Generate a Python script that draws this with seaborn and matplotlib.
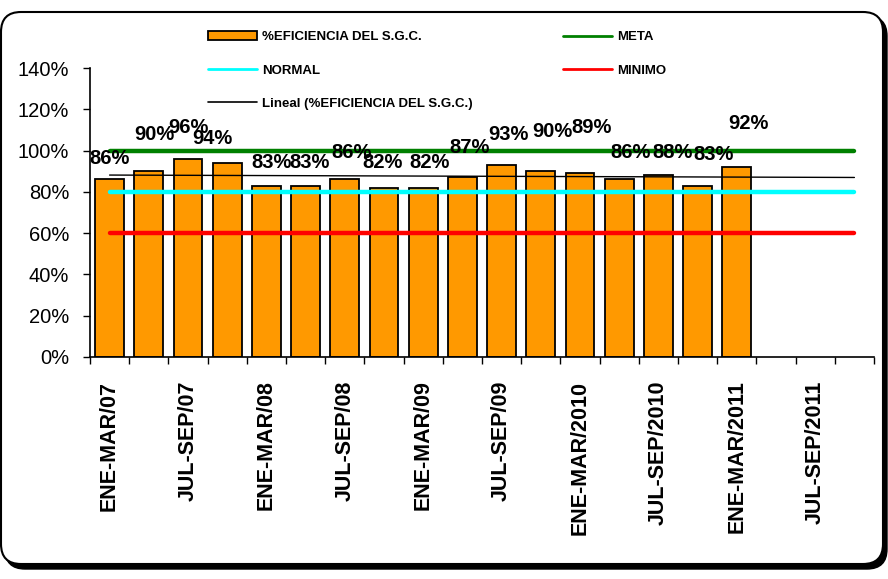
import numpy as np
import pandas as pd
import matplotlib
matplotlib.use("Agg")
import matplotlib.pyplot as plt
import seaborn as sns
from matplotlib.patches import FancyBboxPatch, Patch
from matplotlib.lines import Line2D
from matplotlib.ticker import PercentFormatter, FixedLocator

# data
periods = [
    "ENE-MAR/07", "ABR-JUN/07", "JUL-SEP/07", "OCT-DIC/07",
    "ENE-MAR/08", "ABR-JUN/08", "JUL-SEP/08", "OCT-DIC/08",
    "ENE-MAR/09", "ABR-JUN/09", "JUL-SEP/09", "OCT-DIC/09",
    "ENE-MAR/2010", "ABR-JUN/2010", "JUL-SEP/2010", "OCT-DIC/2010",
    "ENE-MAR/2011", "ABR-JUN/2011", "JUL-SEP/2011", "OCT-DIC/2011",
]
eficiencia = [86, 90, 96, 94, 83, 83, 86, 82, 82, 87, 93, 90, 89, 86, 88, 83, 92]
meta = 100
normal = 80
minimo = 60

# where excel left the data labels (offset from bar centre, label height in %)
label_dx = [0, 0.15, 0, -0.37, 0.13, 0.1, 0.17, -0.04, 0.16, 0.18, 0.18, 0.3, 0.3, 0.3, 0.36, 0.4, 0.3]
label_y = [96.3, 108, 111, 106, 94, 94, 99, 94, 94, 101.6, 108, 109, 111, 99, 99, 98, 113]

sns.set_style("white")
plt.rcParams["font.family"] = ["Liberation Sans", "DejaVu Sans"]
plt.rcParams["text.color"] = "black"
plt.rcParams["xtick.color"] = "black"
plt.rcParams["ytick.color"] = "black"
plt.rcParams["axes.labelcolor"] = "black"

df = pd.DataFrame({"periodo": periods[:len(eficiencia)], "eficiencia": eficiencia})

fig = plt.figure(figsize=(8.88, 5.79), dpi=100)

# rounded frame with shadow
shadow = FancyBboxPatch((0.05, 0.10), 8.82, 5.53,
                        boxstyle="round,pad=0,rounding_size=0.2",
                        transform=fig.dpi_scale_trans, facecolor="black",
                        edgecolor="black", zorder=-2)
frame = FancyBboxPatch((0.01, 0.15), 8.82, 5.52,
                       boxstyle="round,pad=0,rounding_size=0.2",
                       transform=fig.dpi_scale_trans, facecolor="white",
                       edgecolor="black", linewidth=1.5, zorder=-1)
fig.patches.extend([shadow, frame])

ax = fig.add_axes([90 / 888, 1 - 357 / 579, 784 / 888, 289 / 579])
ax.patch.set_alpha(0)

sns.barplot(data=df, x="periodo", y="eficiencia", order=periods,
            color="#FF9900", edgecolor="black", linewidth=1.3,
            width=0.73, saturation=1, ax=ax)

xs = np.arange(len(periods))
fit = np.polyfit(np.arange(len(eficiencia)), eficiencia, 1)
trend = np.polyval(fit, xs)

ax.plot(xs, [meta] * len(xs), color="#008000", lw=3.2, solid_capstyle="round", zorder=3)
ax.plot(xs, [normal] * len(xs), color="#00FFFF", lw=3.2, solid_capstyle="round", zorder=3)
ax.plot(xs, [minimo] * len(xs), color="#FF0000", lw=3.2, solid_capstyle="round", zorder=3)
ax.plot(xs, trend, color="black", lw=1.0, zorder=4)

for i, v in enumerate(eficiencia):
    ax.text(i + label_dx[i], label_y[i], f"{v}%", ha="center", va="center",
            fontsize=14.5, fontweight="bold", color="black", zorder=5)

ax.set_xlim(-0.5, len(periods) - 0.5)
ax.set_ylim(0, 140)
ax.yaxis.set_major_formatter(PercentFormatter(100, decimals=0))
ax.set_yticks(range(0, 141, 20))
ax.set_xticks(xs[::2])
ax.set_xticklabels(periods[::2], rotation=90, fontsize=15.5, fontweight="bold", va="top")
ax.xaxis.set_minor_locator(FixedLocator(np.arange(-0.5, len(periods), 1)))
ax.tick_params(axis="x", which="major", length=0, pad=17)
ax.tick_params(axis="x", which="minor", length=5, width=1, color="black", direction="out", bottom=True)
ax.tick_params(axis="y", length=5, width=1, color="black", direction="out", left=True,
               labelsize=14.5, pad=10)
ax.set_xlabel("")
ax.set_ylabel("")
for side in ["top", "right"]:
    ax.spines[side].set_visible(False)
for side in ["left", "bottom"]:
    ax.spines[side].set_color("black")
    ax.spines[side].set_linewidth(1.2)

leg_kw = dict(frameon=False, prop={"weight": "bold", "size": 9.5}, handlelength=3.7,
              handletextpad=0.4, labelspacing=1.6, borderpad=0, borderaxespad=0,
              loc="upper left", labelcolor="black")
h1 = [Patch(facecolor="#FF9900", edgecolor="black", linewidth=1.3),
      Line2D([], [], color="#00FFFF", lw=2),
      Line2D([], [], color="black", lw=1.2)]
l1 = ["%EFICIENCIA DEL S.G.C.", "NORMAL", "Lineal (%EFICIENCIA DEL S.G.C.)"]
fig.legend(h1, l1, bbox_to_anchor=(208 / 888, 1 - 31 / 579), **leg_kw)
h2 = [Line2D([], [], color="#008000", lw=2), Line2D([], [], color="#FF0000", lw=2)]
l2 = ["META", "MINIMO"]
fig.legend(h2, l2, bbox_to_anchor=(563 / 888, 1 - 31 / 579), **leg_kw)

fig.savefig("out.png", dpi=100)
